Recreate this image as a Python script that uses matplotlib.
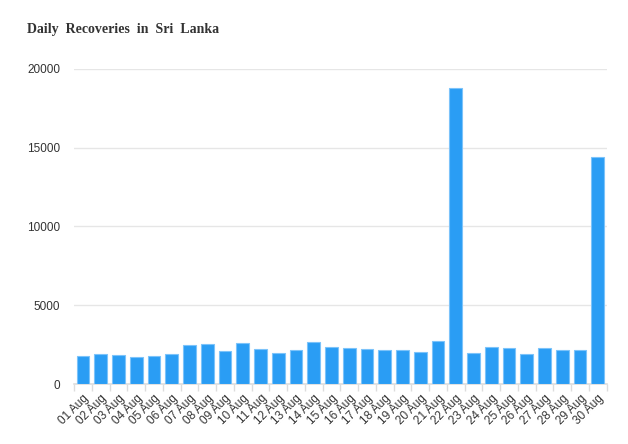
import numpy as np
import matplotlib.pyplot as plt

days = [f"{d:02d} Aug" for d in range(1, 31)]
recoveries = [1765, 1937, 1873, 1746, 1788, 1915, 2465, 2550, 2127, 2613,
              2211, 2000, 2148, 2677, 2360, 2298, 2254, 2171, 2148, 2063,
              2762, 18762, 2000, 2381, 2317, 1915, 2298, 2190, 2190, 14381]

plt.rcParams['font.family'] = ['Liberation Sans', 'DejaVu Sans']

fig = plt.figure(figsize=(6.28, 4.44), dpi=100)
ax = fig.add_axes([0.118, 0.135, 0.848, 0.71])

x = np.arange(len(days))
ax.bar(x, recoveries, width=0.72, color='#2a9df4', edgecolor='#7cc3fa', linewidth=0.8, zorder=3)

ax.set_xlim(-0.5, len(days) - 0.5)
ax.set_ylim(0, 20000)
ax.set_yticks([0, 5000, 10000, 15000, 20000])
ax.set_yticklabels(['0', '5000', '10000', '15000', '20000'], fontsize=8.5, color='#333333')
ax.grid(axis='y', color='#e6e6e6', linewidth=1, zorder=0)

ax.set_xticks(x)
ax.set_xticklabels(days, rotation=45, ha='right', rotation_mode='anchor', fontsize=8.5, color='#333333')
ax.set_xticks(np.arange(-0.5, len(days)), minor=True)
ax.tick_params(axis='x', which='major', length=0, pad=6)
ax.tick_params(axis='x', which='minor', length=5, color='#dddddd', width=1)
ax.tick_params(axis='y', length=0, pad=10)

for s in ['top', 'right', 'left']:
    ax.spines[s].set_visible(False)
ax.spines['bottom'].set_color('#dddddd')
ax.spines['bottom'].set_linewidth(1.2)

fig.text(0.043, 0.925, 'Daily  Recoveries  in  Sri  Lanka', fontsize=10, fontweight='bold',
         family='Liberation Serif', color='#333333')

fig.savefig('out.png', dpi=100)
